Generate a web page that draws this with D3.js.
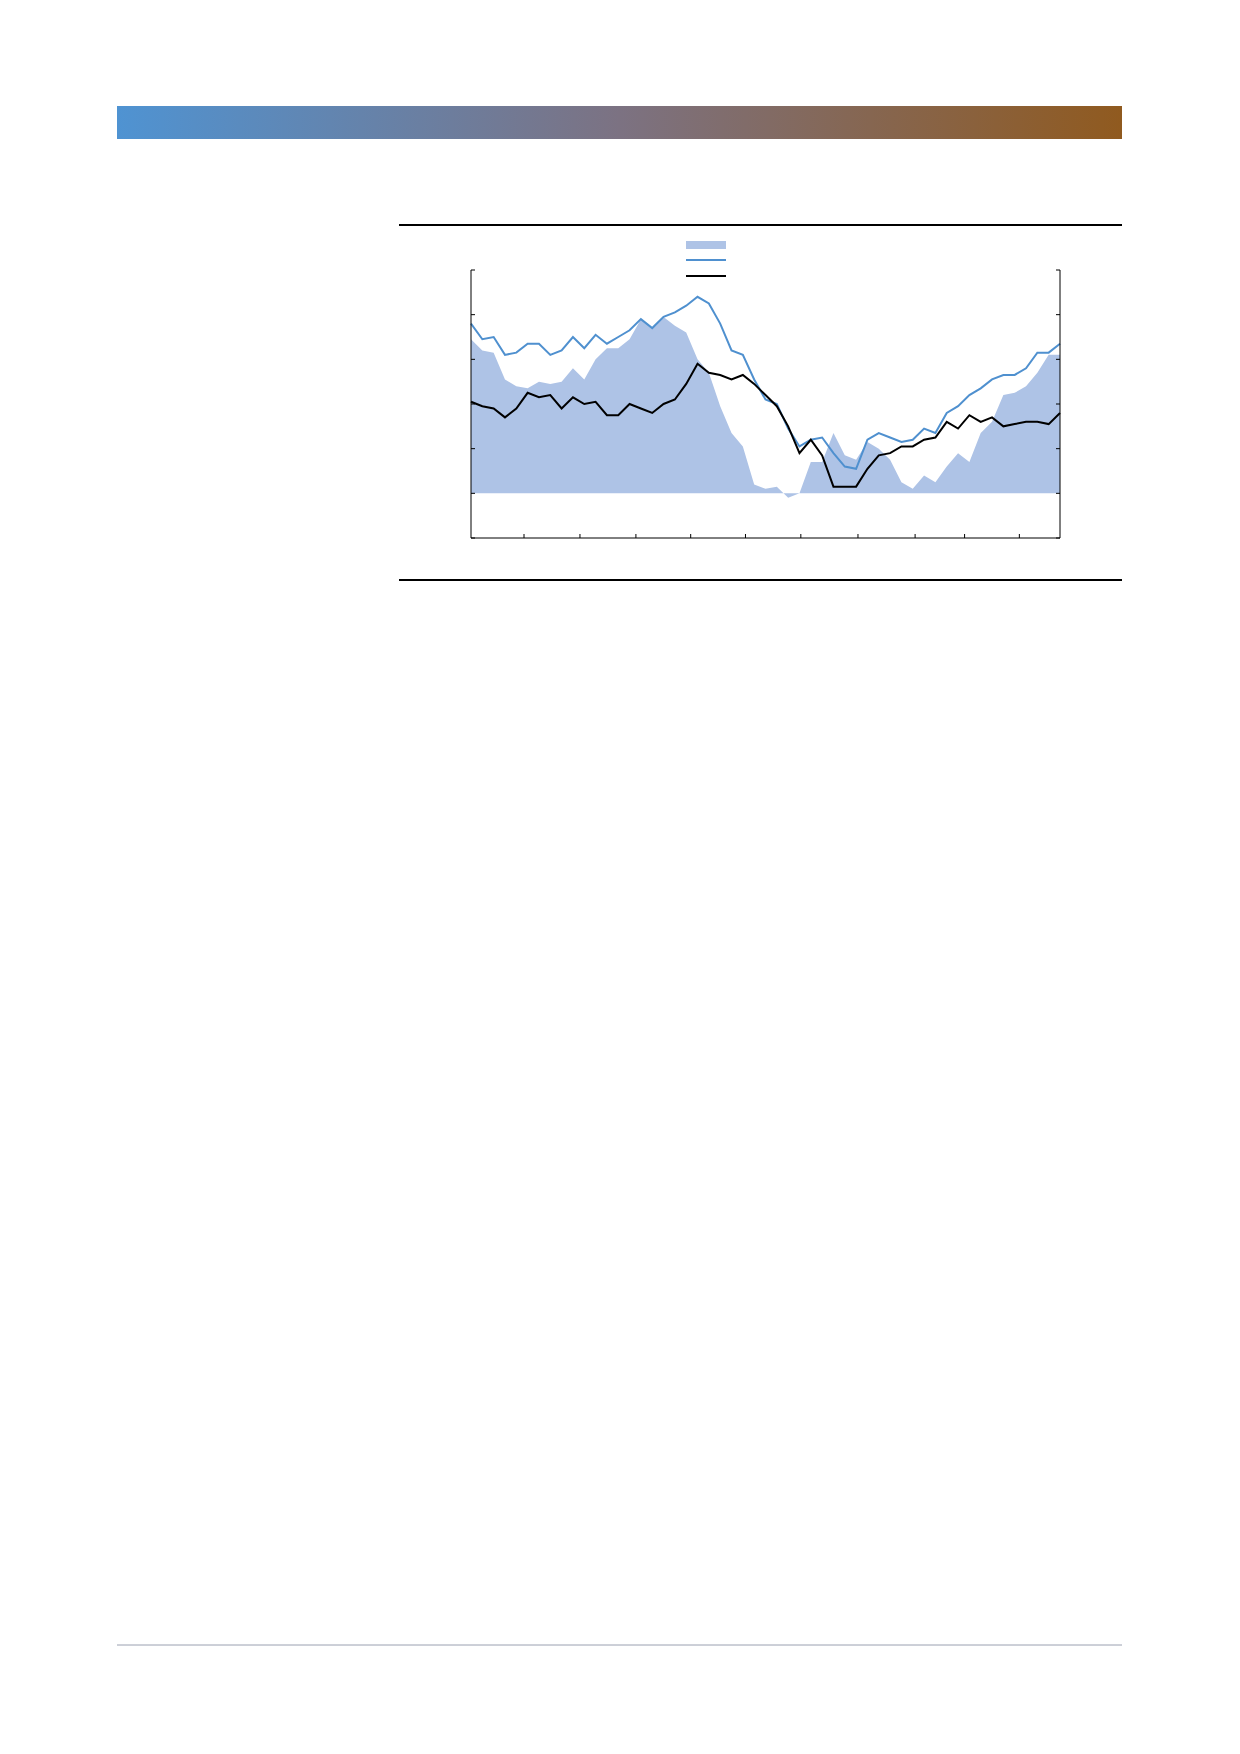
<!DOCTYPE html>
<html><head><meta charset="utf-8">
<script src="https://cdn.jsdelivr.net/npm/d3@7"></script>
<style>body{margin:0;background:#fff}</style>
</head><body>
<svg id="c" width="1240" height="1754"></svg>
<script>
// series values (scale: zero line = 0, one tick = 20)
const spread = [69,64,63,51,48,47,50,49,50,56,51,60,65,65,69,78,74,79,75,72,60,54,39,27,21,4,2,3,-2,0,14,14,27,17,15,23,20,15,5,2,8,5,12,18,14,27,32,44,45,48,54,62,62];
const blueSeries = [76,69,70,62,63,67,67,62,64,70,65,71,67,70,73,78,74,79,81,84,88,85,76,64,62,51,42,40,29,21,24,25,18,12,11,24,27,25,23,24,29,27,36,39,44,47,51,53,53,56,63,63,67];
const blackSeries = [41,39,38,34,38,45,43,44,38,43,40,41,35,35,40,38,36,40,42,49,58,54,53,51,53,49,44,39,30,18,24,17,3,3,3,11,17,18,21,21,24,25,32,29,35,32,34,30,31,32,32,31,36];
const xTicks = [0.09,0.185,0.28,0.373,0.466,0.56,0.657,0.754,0.838,0.931];
const yTicks = [-20,0,20,40,60,80,100];

const svg = d3.select('#c');

// header bar
const grad = svg.append('defs').append('linearGradient').attr('id', 'g');
grad.append('stop').attr('offset', '0%').attr('stop-color', '#4f93d2');
grad.append('stop').attr('offset', '50%').attr('stop-color', '#7c7282');
grad.append('stop').attr('offset', '100%').attr('stop-color', '#905a1f');
svg.append('rect').attr('x', 117).attr('y', 106).attr('width', 1005).attr('height', 33).attr('fill', 'url(#g)');

svg.append('line').attr('x1', 399).attr('x2', 1122).attr('y1', 225).attr('y2', 225).attr('stroke', '#000').attr('stroke-width', 2);
svg.append('line').attr('x1', 399).attr('x2', 1122).attr('y1', 580).attr('y2', 580).attr('stroke', '#000').attr('stroke-width', 2);
svg.append('line').attr('x1', 117).attr('x2', 1122).attr('y1', 1645).attr('y2', 1645).attr('stroke', '#9aa0b0').attr('stroke-width', 1);

const L = 471, R = 1060, T = 270, B = 538;
const x = d3.scaleLinear().domain([0, spread.length - 1]).range([L, R]);
const y = d3.scaleLinear().domain([-20, 100]).range([B, T]);

const g = svg.append('g');
g.append('path').datum(spread)
  .attr('d', d3.area().x((d, i) => x(i)).y0(y(0)).y1(d => y(d)))
  .attr('fill', '#aec3e6');

const line = d3.line().x((d, i) => x(i)).y(d => y(d));
g.append('path').datum(blueSeries).attr('d', line).attr('fill', 'none').attr('stroke', '#4f90cf').attr('stroke-width', 2);
g.append('path').datum(blackSeries).attr('d', line).attr('fill', 'none').attr('stroke', '#000').attr('stroke-width', 2);

// frame: left, right, bottom
g.append('path').attr('d', `M${L},${T}V${B}H${R}V${T}`).attr('fill', 'none').attr('stroke', '#000').attr('stroke-width', 1);
g.selectAll('.yl').data(yTicks).enter().append('line')
  .attr('x1', L).attr('x2', L + 4).attr('y1', d => y(d)).attr('y2', d => y(d)).attr('stroke', '#000');
g.selectAll('.yr').data(yTicks).enter().append('line')
  .attr('x1', R - 4).attr('x2', R).attr('y1', d => y(d)).attr('y2', d => y(d)).attr('stroke', '#000');
const xt = d3.scaleLinear().domain([0, 1]).range([L, R]);
g.selectAll('.xt').data(xTicks).enter().append('line')
  .attr('x1', d => xt(d)).attr('x2', d => xt(d)).attr('y1', B).attr('y2', B - 4).attr('stroke', '#000');

// legend
const lg = svg.append('g').attr('transform', 'translate(686,245)');
lg.append('rect').attr('x', 0).attr('y', -4).attr('width', 40).attr('height', 8).attr('fill', '#aec3e6');
lg.append('line').attr('x1', 0).attr('x2', 40).attr('y1', 15).attr('y2', 15).attr('stroke', '#4f90cf').attr('stroke-width', 2);
lg.append('line').attr('x1', 0).attr('x2', 40).attr('y1', 31).attr('y2', 31).attr('stroke', '#000').attr('stroke-width', 2);
</script>
</body></html>
